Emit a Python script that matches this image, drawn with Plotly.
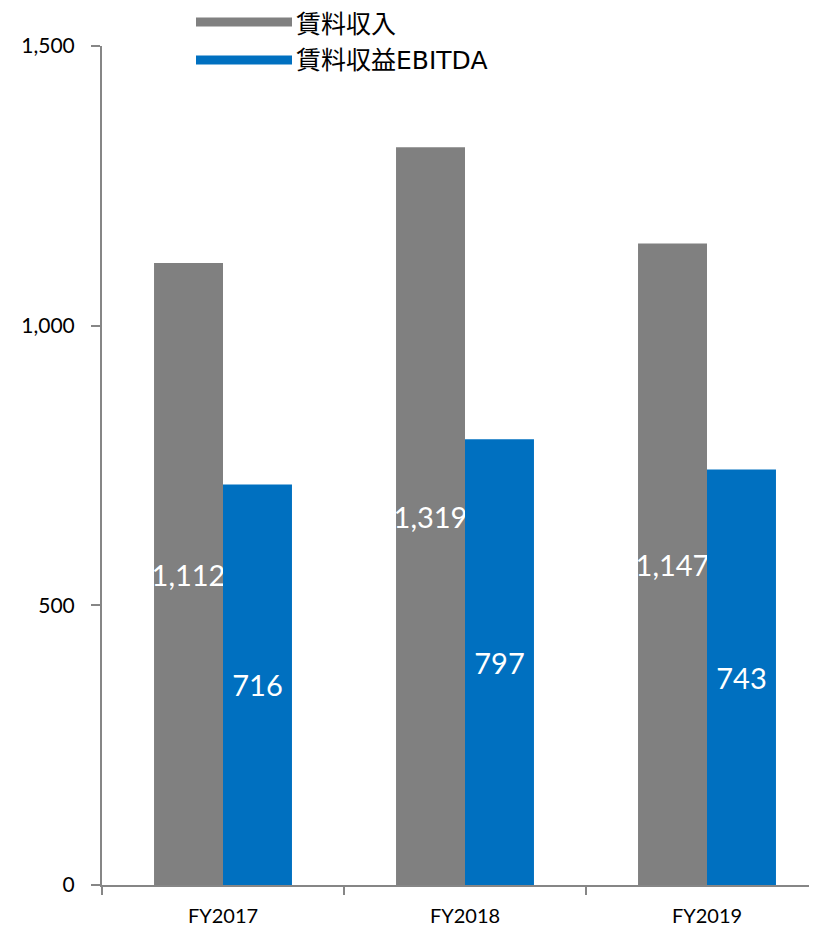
import plotly.graph_objects as go

categories = ["FY2017", "FY2018", "FY2019"]
rent_income = [1112, 1319, 1147]
rent_ebitda = [716, 797, 743]
series_names = ["賃料収入", "賃料収益EBITDA"]
y_ticks = [0, 500, 1000, 1500]
y_tick_labels = ["0", "500", "1,000", "1,500"]

GRAY = "#808080"
BLUE = "#0070C0"
AXIS = "#868686"
FONT = "Lato, 'Noto Sans CJK JP', sans-serif"

fig = go.Figure()
fig.add_trace(go.Bar(
    x=categories, y=rent_income, name=series_names[0], marker_color=GRAY,
    marker_line_width=0,
    text=[f"{v:,}" for v in rent_income], textposition="inside",
    insidetextanchor="middle", textangle=0, constraintext="none",
    textfont=dict(color="white", size=29, family=FONT), showlegend=False))
fig.add_trace(go.Bar(
    x=categories, y=rent_ebitda, name=series_names[1], marker_color=BLUE,
    marker_line_width=0,
    text=[f"{v:,}" for v in rent_ebitda], textposition="inside",
    insidetextanchor="middle", textangle=0, constraintext="none",
    textfont=dict(color="white", size=29, family=FONT), showlegend=False))

# page has ~8px body margin; sizes below are in figure (paper) pixels
OFF = 8
W, H = 809, 918
L, T, B = 102 - OFF, 46 - OFF, 41
cat_w = 242
right_px = W - L
x_max = -0.5 + right_px / cat_w
plot_h = H - T - B

fig.update_layout(
    width=W, height=H,
    margin=dict(l=L, r=0, t=T, b=B),
    paper_bgcolor="white", plot_bgcolor="white",
    barmode="group", bargap=0.43, bargroupgap=0,
    font=dict(family=FONT, color="black"),
    xaxis=dict(type="category", range=[-0.5, x_max], tickson="boundaries",
               ticks="outside", ticklen=8, tickcolor=AXIS, tickwidth=2,
               showline=True, linecolor=AXIS, linewidth=2, showgrid=False,
               tickfont=dict(size=20, family=FONT), ticklabelstandoff=12),
    yaxis=dict(range=[0, 1500], tickvals=y_ticks, ticktext=y_tick_labels,
               ticks="outside", ticklen=9, tickcolor=AXIS, tickwidth=2,
               showline=True, linecolor=AXIS, linewidth=2, showgrid=False,
               zeroline=False, tickfont=dict(size=21, family=FONT),
               ticklabelstandoff=12),
)

# legend drawn manually (line swatches), screen coordinates minus page offset
legend_items = [(series_names[0], GRAY, 22, 24), (series_names[1], BLUE, 60, 61)]
for name, color, ypx, ytxt in legend_items:
    yp = 1 - (ypx - OFF - T) / plot_h
    yt = 1 - (ytxt - OFF - T) / plot_h
    fig.add_shape(type="line", xref="paper", yref="paper",
                  x0=(196 - OFF - L) / right_px, x1=(292 - OFF - L) / right_px,
                  y0=yp, y1=yp, line=dict(color=color, width=9))
    fig.add_annotation(xref="paper", yref="paper", x=(295 - OFF - L) / right_px, y=yt,
                       text=name, showarrow=False, xanchor="left", yanchor="middle",
                       borderpad=0,
                       font=dict(size=25, family="'DejaVu Sans', 'Noto Sans CJK JP', sans-serif",
                                 color="black"))

fig.write_html("out.html")
